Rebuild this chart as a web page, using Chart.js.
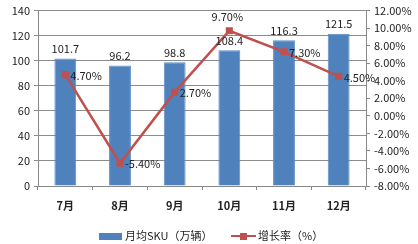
<!DOCTYPE html>
<html>
<head>
<meta charset="utf-8">
<script src="https://cdn.jsdelivr.net/npm/chart.js@4/dist/chart.umd.min.js"></script>
<style>
  html, body { margin: 0; padding: 0; background: #fff; }
  #wrap { width: 418px; height: 244px; }
</style>
</head>
<body>
<div id="wrap"><canvas id="chart" width="418" height="244"></canvas></div>
<script>
const months = ["7月", "8月", "9月", "10月", "11月", "12月"];
const skuValues = [101.7, 96.2, 98.8, 108.4, 116.3, 121.5];
const growthRates = [4.7, -5.4, 2.7, 9.7, 7.3, 4.5];
const skuLabel = "月均SKU（万辆）";
const growthLabel = "增长率（%）";

const BLUE = '#4F81BD';
const RED = '#C0504D';
const FONT = "'Noto Sans CJK SC', 'DejaVu Sans', sans-serif";

// value labels for bars and line points
const valueLabels = {
    id: 'valueLabels',
    afterDatasetsDraw(chart) {
        const ctx = chart.ctx;
        ctx.save();
        ctx.font = "11px " + FONT;
        ctx.fillStyle = '#222';
        chart.getDatasetMeta(0).data.forEach((bar, i) => {
            ctx.textAlign = 'center';
            ctx.textBaseline = 'bottom';
            ctx.fillText(skuValues[i].toFixed(1), bar.x, bar.y - 4);
        });
        chart.getDatasetMeta(1).data.forEach((pt, i) => {
            ctx.textAlign = 'left';
            ctx.textBaseline = 'middle';
            let x = pt.x + 5, y = pt.y + 1;
            if (i === 3) { ctx.textAlign = 'center'; x = pt.x - 2; y = pt.y - 14; }
            ctx.fillText(growthRates[i].toFixed(2) + '%', x, y);
        });
        ctx.restore();
    }
};

// legend at bottom drawn by hand
const bottomLegend = {
    id: 'bottomLegend',
    afterDraw(chart) {
        const ctx = chart.ctx;
        ctx.save();
        ctx.font = "11px " + FONT;
        ctx.textBaseline = 'middle';
        const y = 236;
        ctx.fillStyle = BLUE;
        ctx.fillRect(99, y - 3, 23, 7);
        ctx.fillStyle = '#222';
        ctx.textAlign = 'left';
        ctx.fillText(skuLabel, 125, y);
        ctx.strokeStyle = RED;
        ctx.lineWidth = 2;
        ctx.beginPath();
        ctx.moveTo(231, y);
        ctx.lineTo(256, y);
        ctx.stroke();
        ctx.fillStyle = RED;
        ctx.fillRect(240, y - 3, 7, 7);
        ctx.fillStyle = '#222';
        ctx.fillText(growthLabel, 258, y);
        ctx.restore();
    }
};

new Chart(document.getElementById('chart'), {
    data: {
        labels: months,
        datasets: [
            {
                type: 'bar',
                label: skuLabel,
                data: skuValues,
                backgroundColor: BLUE,
                borderColor: '#5B8CC6',
                borderWidth: 1,
                categoryPercentage: 0.8,
                barPercentage: 0.5,
                yAxisID: 'y',
                order: 2
            },
            {
                type: 'line',
                label: growthLabel,
                data: growthRates,
                borderColor: RED,
                backgroundColor: RED,
                borderWidth: 2.5,
                pointStyle: 'rect',
                pointRadius: 5,
                pointBorderWidth: 0,
                tension: 0,
                yAxisID: 'y1',
                order: 1
            }
        ]
    },
    options: {
        responsive: false,
        animation: false,
        layout: { padding: { top: 10, bottom: 0, left: 0, right: 0 } },
        plugins: {
            legend: { display: false },
            tooltip: { enabled: false }
        },
        scales: {
            x: {
                afterFit(s) { s.height = 58; },
                grid: { display: true, drawOnChartArea: false, offset: true, tickLength: 4, color: '#888' },
                border: { color: '#888' },
                ticks: { color: '#222', font: { family: FONT, size: 11, weight: 'bold' }, padding: 9 }
            },
            y: {
                position: 'left',
                min: 0, max: 140,
                afterFit(s) { s.width = 38; },
                grid: { color: '#8c8c8c', drawTicks: true, tickLength: 4 },
                border: { color: '#888' },
                ticks: { stepSize: 20, autoSkip: false, color: '#222', font: { family: FONT, size: 11 }, padding: 4 }
            },
            y1: {
                position: 'right',
                min: -8, max: 12,
                afterFit(s) { s.width = 52; },
                grid: { drawOnChartArea: false, tickLength: 4, color: '#888' },
                border: { color: '#888' },
                ticks: {
                    stepSize: 2, autoSkip: false, color: '#222', font: { family: FONT, size: 11 }, padding: 4,
                    callback: v => v.toFixed(2) + '%'
                }
            }
        }
    },
    plugins: [valueLabels, bottomLegend]
});
</script>
</body>
</html>
